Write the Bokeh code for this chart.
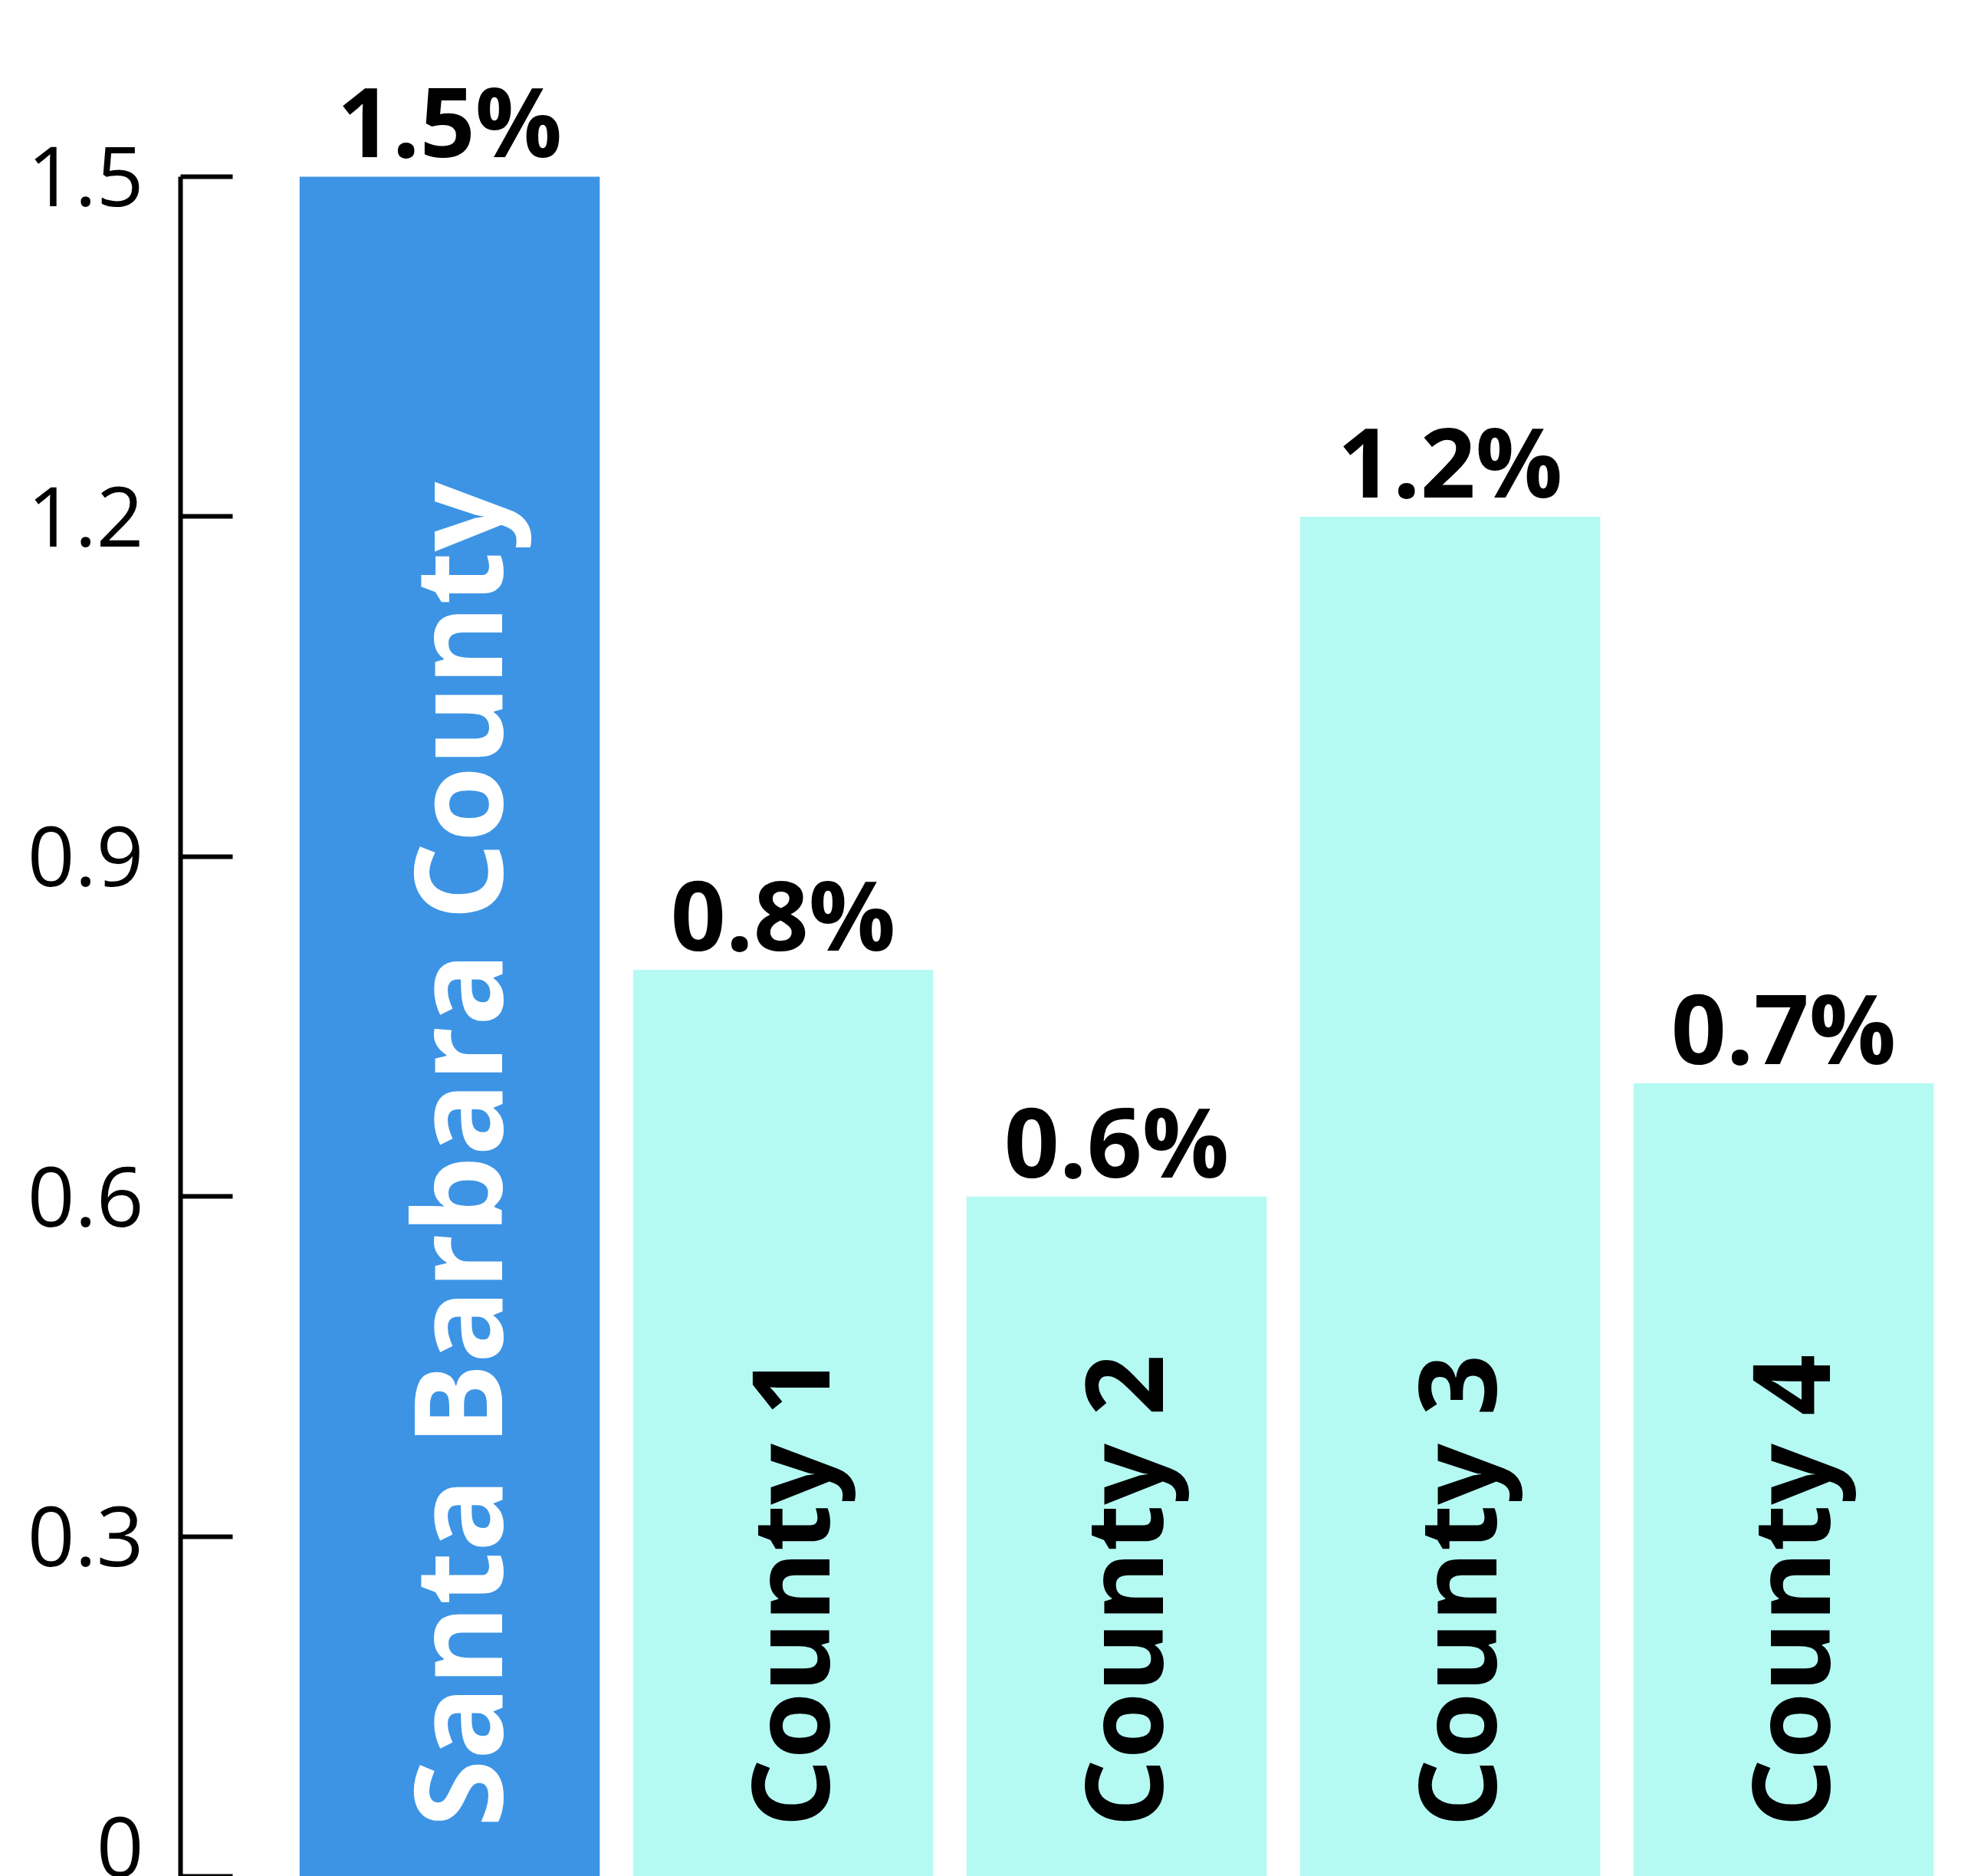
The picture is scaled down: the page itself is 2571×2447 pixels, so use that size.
import numpy as np
from bokeh.plotting import figure
from bokeh.models import Range1d, FixedTicker, ColumnDataSource
from bokeh.embed import file_html
from bokeh.resources import INLINE
from bokeh.core.properties import value

# ---- data ----
categories = ["Santa Barbara County", "County 1", "County 2", "County 3", "County 4"]
rates = [1.5, 0.8, 0.6, 1.2, 0.7]
y_ticks = [0, 0.3, 0.6, 0.9, 1.2, 1.5]
highlight = "Santa Barbara County"

# ---- derived ----
idx = np.arange(len(categories))
value_labels = [f"{v}%" for v in rates]
bar_colors = ["#3D94E5" if c == highlight else "#B4FAF3" for c in categories]
text_colors = ["#FFFFFF" if c == highlight else "#000000" for c in categories]
text_sizes = ["160px" if c == highlight else "140px" for c in categories]

src = ColumnDataSource(dict(x=idx, top=rates, cat=categories, lab=value_labels,
                            bc=bar_colors, tc=text_colors, ts=text_sizes,
                            zero=[0] * len(idx)))

W, H = 2571, 2447
p = figure(width=W, height=H, output_backend="svg", toolbar_location=None,
           x_range=Range1d(-0.807, 4.563), y_range=Range1d(0, 1.6556),
           min_border_left=235, min_border_right=0, min_border_top=0, min_border_bottom=0)
p.xaxis.visible = False
p.grid.visible = False
p.outline_line_color = None
p.background_fill_color = "white"
p.border_fill_color = "white"

p.vbar(x="x", top="top", width=0.9, bottom=0, fill_color="bc", line_color=None, source=src)

# value labels on top of bars
p.text(x="x", y="top", text="lab", source=src, text_align="center", text_baseline="alphabetic",
       y_offset=-74, text_font=value("Open Sans"), text_font_style="bold",
       text_font_size="126px", text_color="#000000")

# rotated category labels inside bars
p.text(x="x", y="zero", text="cat", source=src, angle=np.pi / 2, text_align="left",
       text_baseline="middle", x_offset=6, y_offset=-64, text_font=value("Open Sans"),
       text_font_style="bold", text_font_size="ts", text_color="tc")

ax = p.yaxis[0]
ax.ticker = FixedTicker(ticks=y_ticks)
ax.bounds = (0, 1.5)
ax.axis_line_width = 6
ax.axis_line_color = "#000000"
ax.major_tick_in = 68
ax.major_tick_out = 0
ax.major_tick_line_width = 6
ax.major_tick_line_color = "#000000"
ax.minor_tick_line_color = None
ax.major_label_standoff = 48
ax.major_label_text_font = "Open Sans"
ax.major_label_text_font_size = "108px"
ax.major_label_text_color = "#000000"

open("out.html", "w").write(file_html(p, INLINE))
